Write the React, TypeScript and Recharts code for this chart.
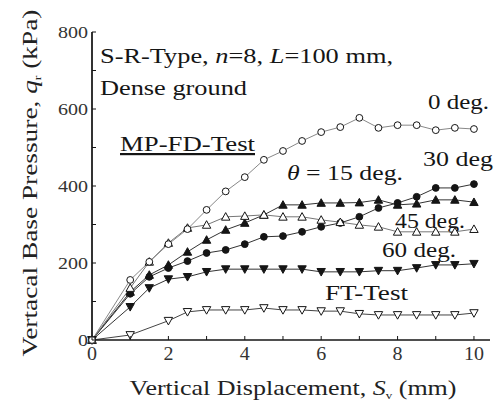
import { LineChart, Line, XAxis, YAxis } from 'recharts';

// displacement S_v (mm)
const xs = [0, 1, 1.5, 2, 2.5, 3, 3.5, 4, 4.5, 5, 5.5, 6, 6.5, 7, 7.5, 8, 8.5, 9, 9.5, 10];

// vertical base pressure q_r (kPa)
const deg0 = [0, 156, 203, 249, 288, 338, 386, 423, 468, 491, 517, 540, 553, 577, 551, 558, 558, 545, 551, 548];
const deg15 = [0, 125, 169, 195, 229, 260, 286, 304, 325, 351, 351, 356, 356, 357, 364, 351, 354, 364, 364, 358];
const deg30 = [0, 120, 164, 187, 205, 226, 234, 249, 268, 270, 281, 294, 304, 320, 343, 356, 372, 395, 395, 405];
const deg45 = [0, 135, 203, 252, 291, 299, 320, 322, 325, 320, 320, 312, 306, 299, 294, 281, 281, 281, 281, 288];
const deg60 = [0, 86, 135, 158, 164, 177, 184, 184, 184, 184, 184, 177, 177, 177, 180, 180, 187, 195, 195, 198];
const ftTest = [0, 13, null, 50, 73, 78, 78, 78, 83, 78, 78, 75, 75, 68, 65, 65, 65, 65, 65, 70];

const xTicks = [0, 1, 2, 3, 4, 5, 6, 7, 8, 9, 10];
const yTicks = [0, 100, 200, 300, 400, 500, 600, 700, 800];

const data = xs.map((x, i) => ({
  x,
  deg0: deg0[i],
  deg15: deg15[i],
  deg30: deg30[i],
  deg45: deg45[i],
  deg60: deg60[i],
  ft: ftTest[i],
}));

const FONT = '"Liberation Serif", "Times New Roman", serif';
const INK = '#151515';

type Shape = 'circleOpen' | 'circleFilled' | 'triUpOpen' | 'triUpFilled' | 'triDownOpen' | 'triDownFilled';

const marker = (shape: Shape, name: string) => (p: any) => {
  const { cx, cy, index } = p;
  const key = `${name}-${index}`;
  if (cx == null || cy == null || p.value == null) return <g key={key} />;
  const filled = shape.endsWith('Filled');
  const fill = filled ? INK : '#fff';
  if (shape.startsWith('circle')) {
    return <circle key={key} cx={cx} cy={cy} r={3.4} fill={fill} stroke={INK} strokeWidth={1} />;
  }
  const s = 4.2;
  const pts = shape.startsWith('triUp')
    ? `${cx},${cy - s} ${cx - s},${cy + s * 0.8} ${cx + s},${cy + s * 0.8}`
    : `${cx},${cy + s} ${cx - s},${cy - s * 0.8} ${cx + s},${cy - s * 0.8}`;
  return <polygon key={key} points={pts} fill={fill} stroke={INK} strokeWidth={1} />;
};

const LeftTick = (props: any) => {
  const { x, y, payload } = props;
  const ax = x + 5;
  const txt = String(payload.value);
  return (
    <g>
      <line x1={ax} x2={ax + 4} y1={y} y2={y} stroke={INK} />
      {payload.value % 200 === 0 && (
        <text
          x={ax - 4}
          y={y + 6}
          textAnchor="end"
          fontFamily={FONT}
          fontSize={17}
          fill="#333"
          textLength={txt.length * 10}
          lengthAdjust="spacingAndGlyphs"
        >
          {txt}
        </text>
      )}
    </g>
  );
};

const BottomTick = (props: any) => {
  const { x, y, payload } = props;
  const ay = y - 4;
  const txt = String(payload.value);
  return (
    <g>
      <line x1={x} x2={x} y1={ay} y2={ay - 4} stroke={INK} />
      {payload.value % 2 === 0 && (
        <text
          x={x}
          y={y + 16}
          textAnchor="middle"
          fontFamily={FONT}
          fontSize={18}
          fill="#333"
          textLength={txt.length * 10}
          lengthAdjust="spacingAndGlyphs"
        >
          {txt}
        </text>
      )}
    </g>
  );
};

const TopTick = (props: any) => {
  const { x, y } = props;
  return <line x1={x} x2={x} y1={y} y2={y + 4} stroke="#555" />;
};

const RightTick = (props: any) => {
  const { x, y } = props;
  return <line x1={x} x2={x - 4} y1={y} y2={y} stroke="#555" />;
};

// scanned labels are wider than the font, so stretch them to the measured width
const label = (x: number, y: number, width: number, content: any, extra: any = {}) => (
  <text
    x={x}
    y={y}
    fontFamily={FONT}
    fontSize={22}
    fill={INK}
    textLength={width}
    lengthAdjust="spacingAndGlyphs"
    {...extra}
  >
    {content}
  </text>
);

export default function App() {
  return (
    <div style={{ position: 'absolute', left: 0, top: 0, background: '#fff' }}>
      <LineChart width={494} height={407} data={data} margin={{ top: 32, right: 4, left: 0, bottom: 0 }}>
        <XAxis
          dataKey="x"
          type="number"
          domain={[0, 10.42]}
          ticks={xTicks}
          height={67}
          tickSize={0}
          tickMargin={4}
          tick={<BottomTick />}
          axisLine={{ stroke: INK, strokeWidth: 1.5 }}
          tickLine={false}
        />
        <XAxis
          xAxisId="top"
          orientation="top"
          dataKey="x"
          type="number"
          domain={[0, 10.42]}
          ticks={xTicks}
          height={0}
          tickSize={0}
          tickMargin={0}
          tick={<TopTick />}
          axisLine={{ stroke: '#666', strokeWidth: 1.5 }}
          tickLine={false}
        />
        <YAxis
          type="number"
          domain={[0, 800]}
          ticks={yTicks}
          width={92}
          tickSize={0}
          tickMargin={5}
          tick={<LeftTick />}
          axisLine={{ stroke: '#333', strokeWidth: 2 }}
          tickLine={false}
        />
        <YAxis
          yAxisId="right"
          orientation="right"
          type="number"
          domain={[0, 800]}
          ticks={yTicks}
          width={0}
          tickSize={0}
          tickMargin={0}
          tick={<RightTick />}
          axisLine={{ stroke: '#777', strokeWidth: 1.5 }}
          tickLine={false}
        />
        <Line type="linear" dataKey="ft" stroke="#444" strokeWidth={1} connectNulls dot={marker('triDownOpen', 'ft')} isAnimationActive={false} />
        <Line type="linear" dataKey="deg60" stroke="#333" strokeWidth={1} dot={marker('triDownFilled', 'd60')} isAnimationActive={false} />
        <Line type="linear" dataKey="deg30" stroke="#333" strokeWidth={1} dot={marker('circleFilled', 'd30')} isAnimationActive={false} />
        <Line type="linear" dataKey="deg15" stroke="#333" strokeWidth={1} dot={marker('triUpFilled', 'd15')} isAnimationActive={false} />
        <Line type="linear" dataKey="deg45" stroke="#777" strokeWidth={1} dot={marker('triUpOpen', 'd45')} isAnimationActive={false} />
        <Line type="linear" dataKey="deg0" stroke="#888" strokeWidth={1} dot={marker('circleOpen', 'd0')} isAnimationActive={false} />

        {label(100, 63, 293, (
          <>
            S-R-Type, <tspan fontStyle="italic">n</tspan>=8, <tspan fontStyle="italic">L</tspan>=100 mm,
          </>
        ))}
        {label(100, 95, 147, 'Dense ground')}
        {label(120, 151, 135, 'MP-FD-Test', { textDecoration: 'underline' })}
        {label(428, 109, 61, '0 deg.')}
        {label(287, 180, 116, (
          <>
            <tspan fontStyle="italic">θ</tspan> = 15 deg.
          </>
        ))}
        {label(423, 166, 70, '30 deg')}
        {label(395, 228, 70, '45 deg.')}
        {label(382, 257, 74, '60 deg.')}
        {label(325, 300, 83, 'FT-Test')}

        <text
          x={293}
          y={395}
          textAnchor="middle"
          fontFamily={FONT}
          fontSize={22}
          fill="#222"
          textLength={327}
          lengthAdjust="spacingAndGlyphs"
        >
          Vertical Displacement, <tspan fontStyle="italic">S</tspan>
          <tspan fontSize={11} dy={4}>v</tspan>
          <tspan dy={-4}> (mm)</tspan>
        </text>
        <text
          transform="translate(37,183) rotate(-90)"
          textAnchor="middle"
          fontFamily={FONT}
          fontSize={22}
          fill="#222"
          textLength={347}
          lengthAdjust="spacingAndGlyphs"
        >
          Vertacal Base Pressure, <tspan fontStyle="italic">q</tspan>
          <tspan fontSize={11} dy={4}>r</tspan>
          <tspan dy={-4}> (kPa)</tspan>
        </text>
      </LineChart>
    </div>
  );
}
